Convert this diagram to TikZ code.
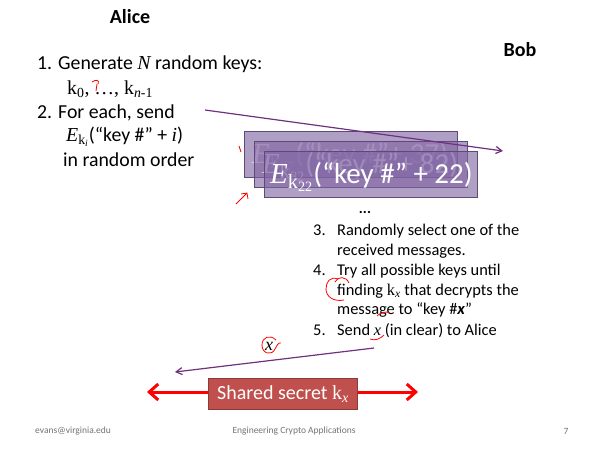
\documentclass[tikz,border=0pt]{standalone}
\usepackage{fontspec}
\setmainfont{Carlito}
\newfontfamily\serifkeys{Liberation Serif}
\usetikzlibrary{arrows.meta}
\definecolor{msgfill}{HTML}{8064A2}
\definecolor{msgdraw}{HTML}{5F497A}
\definecolor{arrpurple}{HTML}{70307F}
\definecolor{boxred}{HTML}{C0504D}
\definecolor{boxdraw}{HTML}{8C3A38}
\newcommand{\si}[1]{{\serifkeys\itshape #1}}
\newcommand{\sk}[1]{{\serifkeys k\textsubscript{#1}}}
\begin{document}
\begin{tikzpicture}[x=1pt,y=-1pt,
  txt/.style={inner sep=0pt, anchor=west, font=\fontsize{19.8}{23}\selectfont},
  bobtxt/.style={inner sep=0pt, anchor=west, font=\fontsize{16.4}{19}\selectfont},
  head/.style={inner sep=0pt, font=\bfseries\fontsize{20}{23}\selectfont},
  msgbox/.style={draw=msgdraw, line width=0.8pt, fill=msgfill, fill opacity=0.62, minimum width=213pt, minimum height=46pt, inner sep=0pt},
  msgtxt/.style={inner sep=0pt, anchor=west, text=white, font=\fontsize{29}{32}\selectfont},
  sendarrow/.style={draw=arrpurple, line width=1.2pt, -{Straight Barb[length=6pt,width=7pt]}},
  redarrow/.style={draw=red, line width=3pt, -{Straight Barb[length=9pt,width=16pt]}},
  secret/.style={draw=boxdraw, fill=boxred, line width=0.8pt, minimum width=149pt, minimum height=31pt, inner sep=0pt, text=white, font=\fontsize{20}{23}\selectfont},
  foot/.style={inner sep=0pt, text=black!55, font=\fontsize{9.5}{11}\selectfont},
  annot/.style={draw=red, line width=0.8pt}
]
\useasboundingbox (0,0) rectangle (600,450);

% headings
\node[head] (alice) at (130,17) {Alice};
\node[head] (bob) at (520,50) {Bob};

% Alice's steps
\node[txt] (l1) at (37,64) {\makebox[21pt][l]{1.}Generate \si{N} random keys:};
\node[txt] (l1b) at (67,89) {\sk{0}{\serifkeys, …, }\sk{\itshape n\upshape-1}};
\node[txt] (l2) at (37,113) {\makebox[21pt][l]{2.}For each, send};
\node[txt] (l2b) at (66,137) {{\serifkeys\itshape E}\textsubscript{\serifkeys k\textsubscript{\itshape i}}(“key \#” + \si{i})};
\node[txt] (l2c) at (63,160) {in random order};

% messages
\node[msgbox] (m1) at (350.5,154) {};
\node[msgtxt, text opacity=0.6] (t1) at (252,157) {{\serifkeys\itshape E}\textsubscript{\serifkeys k\textsubscript{37}}(“key \#”+ 37)};
\node[msgbox] (m2) at (360.5,164) {};
\node[msgtxt, text opacity=0.6] (t2) at (262,167) {{\serifkeys\itshape E}\textsubscript{\serifkeys k\textsubscript{82}}(“key \#”+ 82)};
\node[msgbox] (m3) at (370.5,174) {};
\node[msgtxt] (t3) at (270,177) {{\serifkeys\itshape E}\textsubscript{\serifkeys k\textsubscript{22}}(“key \#” + 22)};

\coordinate (a1s) at (205,110);
\coordinate (a1e) at (503,151);
\draw[sendarrow] (a1s) -- (a1e);

\node[inner sep=0pt, font=\bfseries\fontsize{15}{17}\selectfont] (dots) at (365,212) {...};

% Bob's steps
\node[bobtxt] (b3) at (313,231) {\makebox[24pt][l]{3.}Randomly select one of the};
\node[bobtxt] (b3b) at (337,251) {received messages.};
\node[bobtxt] (b4) at (313,271) {\makebox[24pt][l]{4.}Try all possible keys until};
\node[bobtxt] (b4b) at (337,291) {finding \sk{\itshape x} that decrypts the};
\node[bobtxt] (b4c) at (337,310) {message to “key \#\textbf{\textit{x}}”};
\node[bobtxt] (b5) at (313,331) {\makebox[24pt][l]{5.}Send \si{x} (in clear) to Alice};

% return arrow
\coordinate (a2s) at (374,348);
\coordinate (a2e) at (175,372);
\draw[sendarrow] (a2s) -- (a2e);
\node[inner sep=0pt, font=\serifkeys\itshape\fontsize{18}{20}\selectfont] (xl) at (269,346) {x};

% shared secret
\node[secret] (sec) at (283,394) {Shared secret \sk{\itshape x}};
\coordinate (rl) at (147,392);
\coordinate (rr) at (418,392);
\draw[redarrow] (sec.west |- rl) -- (rl);
\draw[redarrow] (sec.east |- rr) -- (rr);

% footer
\node[foot, anchor=west] (f1) at (35,431) {evans@virginia.edu};
\node[foot] (f2) at (294,431) {Engineering Crypto Applications};
\node[foot] (f3) at (566,431) {7};

% red handwritten annotations
\draw[annot] (92,82) .. controls (96,79) and (100,80) .. (98,84) (97,84) -- (96,91);
\draw[annot] (239,146) -- (241,152);
\draw[annot] (236,204) -- (247,193) (241,194) -- (247,193) -- (248,199);
\draw[annot] (335,282) .. controls (338,276) and (346,276) .. (349,283);
\draw[annot] (338,279) .. controls (330,276) and (326,282) .. (326,289) .. controls (326,297) and (334,302) .. (344,300);
\draw[annot] (377,316) .. controls (381,312) and (386,311) .. (390,313);
\draw[annot] (370,339) .. controls (375,341) and (380,339) .. (384,335);
\draw[annot] (276,340) .. controls (270,334) and (262,337) .. (262,345) .. controls (262,354) and (272,356) .. (275,349) .. controls (277,345) and (279,342) .. (281,343);
\end{tikzpicture}
\end{document}
